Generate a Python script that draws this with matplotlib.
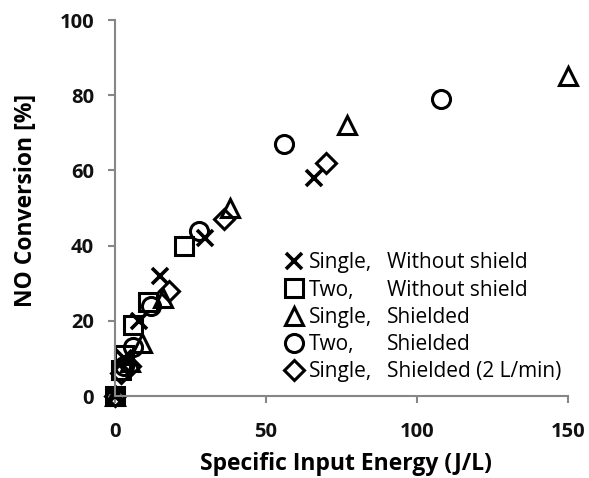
import matplotlib
matplotlib.use('Agg')
import matplotlib.pyplot as plt

plt.rcParams['font.family'] = ['Open Sans', 'DejaVu Sans']

# single, without shield
x_sw = [0, 3, 8, 15, 30, 66]
y_sw = [0, 10, 20, 32, 42, 58]
# two, without shield
x_tw = [0, 2, 3, 6, 11, 23]
y_tw = [0, 7, 11, 19, 25, 40]
# single, shielded
x_ss = [0, 5, 9, 16, 38, 77, 150]
y_ss = [0, 9, 14, 26, 50, 72, 85]
# two, shielded
x_ts = [0, 3, 6, 12, 28, 56, 108]
y_ts = [0, 8, 13, 24, 44, 67, 79]
# single, shielded, 2 L/min
x_s2 = [0, 2, 5, 18, 36, 70]
y_s2 = [0, 6, 8, 28, 47, 62]

col1 = ['Single,', 'Two,', 'Single,', 'Two,', 'Single,']
col2 = ['Without shield', 'Without shield', 'Shielded', 'Shielded', 'Shielded (2 L/min)']

fig = plt.figure(figsize=(5.89, 4.78), dpi=100)
ax = fig.add_axes([0.195, 0.1715, 0.769, 0.7865])

kw = dict(ls='none', color='black', mfc='none', mew=2.2)
ax.plot(x_sw, y_sw, marker='x', ms=11, mew=2.6, ls='none', color='black', label=col1[0])
ax.plot(x_tw, y_tw, marker='s', ms=13, label=col1[1], **kw)
ax.plot(x_ss, y_ss, marker='^', ms=13, label=col1[2], **kw)
ax.plot(x_ts, y_ts, marker='o', ms=13, label=col1[3], **kw)
ax.plot(x_s2, y_s2, marker='D', ms=10, label=col1[4], **kw)
for ln in ax.lines:
    ln.set_clip_on(False)

ax.set_xlim(0, 150)
ax.set_ylim(0, 100)
ax.set_xticks([0, 50, 100, 150])
ax.set_yticks([0, 20, 40, 60, 80, 100])
for s in ['top', 'right']:
    ax.spines[s].set_visible(False)
for s in ['left', 'bottom']:
    ax.spines[s].set_color('#868686')
    ax.spines[s].set_linewidth(1.5)
ax.tick_params(color='#868686', width=1.5, length=5, labelsize=14.5)
ax.tick_params(axis='y', pad=10)
ax.tick_params(axis='x', pad=14)
for t in ax.get_xticklabels() + ax.get_yticklabels():
    t.set_fontweight('bold')
    t.set_color('#111111')

ax.set_xlabel('Specific Input Energy (J/L)', fontsize=16.5, fontweight='bold')
ax.set_ylabel('NO Conversion [%]', fontsize=16.5, fontweight='bold')
ax.xaxis.set_label_coords(0.51, -0.15)
ax.yaxis.set_label_coords(-0.17, 0.52)

leg = ax.legend(loc='center left', bbox_to_anchor=(0.355, 0.209), frameon=False, fontsize=15,
                handlelength=0.8, handletextpad=0.3, labelspacing=0.3, borderpad=0)

# second legend column, aligned with the rows of the legend
fig.canvas.draw()
inv = ax.transAxes.inverted()
for t, s in zip(leg.get_texts(), col2):
    bb = t.get_window_extent()
    ys = inv.transform((0, (bb.y0 + bb.y1) / 2))[1]
    ax.text(0.60, ys, s, transform=ax.transAxes, fontsize=15, va='center', ha='left')

fig.savefig('out.png', dpi=100)
